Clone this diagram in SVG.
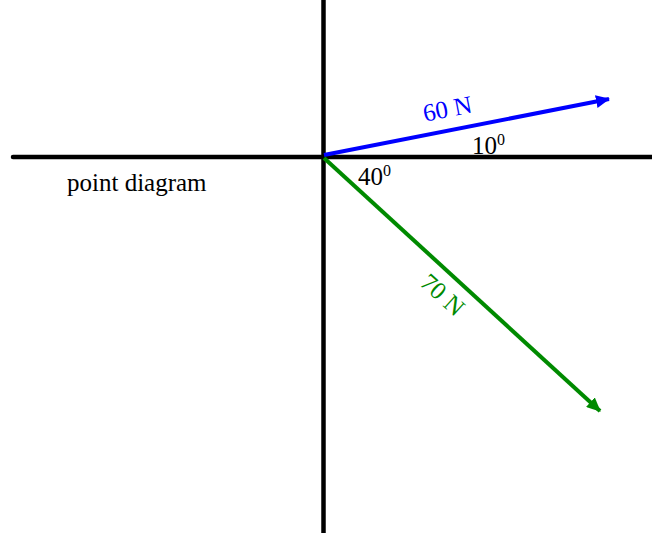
<svg xmlns="http://www.w3.org/2000/svg" width="652" height="533" viewBox="0 0 652 533">
<style>
.axis{stroke:#000;stroke-width:4.5;fill:none;stroke-linecap:round}
.vec{stroke-width:4;fill:none}
.t{font-family:"Liberation Serif","Times New Roman",serif;font-size:25px}
.sup{font-size:16px}
</style>
<defs>
<marker id="ab" viewBox="0 0 14 13" refX="13" refY="6.5" markerWidth="14" markerHeight="13" markerUnits="userSpaceOnUse" orient="auto"><path d="M0,0 L14,6.5 L0,13 Z" fill="#0000ff"/></marker>
<marker id="ag" viewBox="0 0 14 13" refX="13" refY="6.5" markerWidth="14" markerHeight="13" markerUnits="userSpaceOnUse" orient="auto"><path d="M0,0 L14,6.5 L0,13 Z" fill="#008a00"/></marker>
</defs>
<g id="axes">
<line class="axis" x1="13" y1="157" x2="652" y2="157"/>
<line class="axis" x1="323.5" y1="0" x2="323.5" y2="533"/>
</g>
<g id="connectors">
<line class="vec" x1="324" y1="155" x2="609" y2="99" stroke="#0000ff" marker-end="url(#ab)"/>
<line class="vec" x1="324" y1="158" x2="600" y2="411" stroke="#008a00" marker-end="url(#ag)"/>
</g>
<g id="labels">
<text class="t" x="449" y="117" fill="#0000ff" text-anchor="middle" transform="rotate(-11 449 117)">60 N</text>
<text class="t" x="437" y="301" fill="#008a00" text-anchor="middle" transform="rotate(42 437 301)">70 N</text>
<text class="t" x="472" y="154">10<tspan class="sup" dy="-9">0</tspan></text>
<text class="t" x="358" y="185">40<tspan class="sup" dy="-9">0</tspan></text>
<text class="t" x="67" y="191">point diagram</text>
</g>
</svg>
